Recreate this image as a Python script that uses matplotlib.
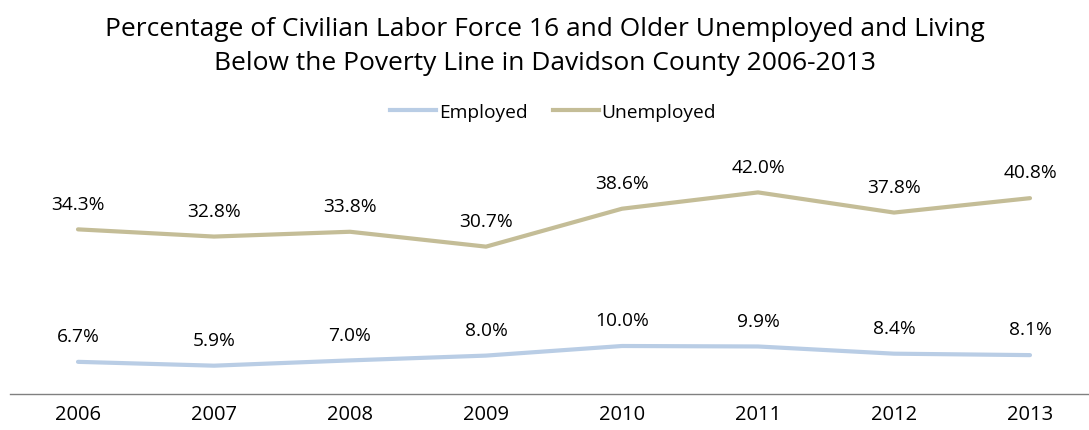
import matplotlib
matplotlib.use("Agg")
import matplotlib.pyplot as plt
from matplotlib.lines import Line2D

years = ["2006", "2007", "2008", "2009", "2010", "2011", "2012", "2013"]
employed = [6.7, 5.9, 7.0, 8.0, 10.0, 9.9, 8.4, 8.1]
unemployed = [34.3, 32.8, 33.8, 30.7, 38.6, 42.0, 37.8, 40.8]

c_emp = "#B9CDE5"
c_unemp = "#C4BD97"

plt.rcParams["font.family"] = ["Open Sans", "DejaVu Sans"]

W, H = 1089, 431
fig = plt.figure(figsize=(W / 100, H / 100), dpi=100)
ax = fig.add_axes([10 / W, (H - 395) / H, (W - 10) / W, 240 / H])

x = list(range(len(years)))
ax.plot(x, employed, color=c_emp, lw=3.0, solid_capstyle="round")
ax.plot(x, unemployed, color=c_unemp, lw=3.0, solid_capstyle="round")

for series in (employed, unemployed):
    for xi, v in zip(x, series):
        ax.annotate(f"{v:.1f}%", (xi, v), xytext=(0, 18.5), textcoords="offset points",
                    ha="center", va="center", fontsize=13.8, color="black")

ax.set_xlim(-0.5, (W - 78) / 136)
ax.set_ylim(0, 50)
ax.set_xticks(x)
ax.set_xticklabels(years, fontsize=14.5)
ax.set_yticks([])
for s in ["top", "right", "left"]:
    ax.spines[s].set_visible(False)
ax.spines["bottom"].set_color("#808080")
ax.spines["bottom"].set_linewidth(1.0)
ax.tick_params(axis="x", length=0, pad=7)

fig.text(0.5, 1 - 29 / H, "Percentage of Civilian Labor Force 16 and Older Unemployed and Living",
         ha="center", va="center", fontsize=19)
fig.text(0.5, 1 - 63 / H, "Below the Poverty Line in Davidson County 2006-2013",
         ha="center", va="center", fontsize=19)

handles = [Line2D([], [], color=c_emp, lw=3.0), Line2D([], [], color=c_unemp, lw=3.0)]
fig.legend(handles, ["Employed", "Unemployed"], loc="center", bbox_to_anchor=(0.508, 1 - 113 / H),
           ncol=2, frameon=False, fontsize=13.8, handlelength=2.4, handletextpad=0.15,
           columnspacing=1.3)

fig.savefig("out.png", dpi=100)
